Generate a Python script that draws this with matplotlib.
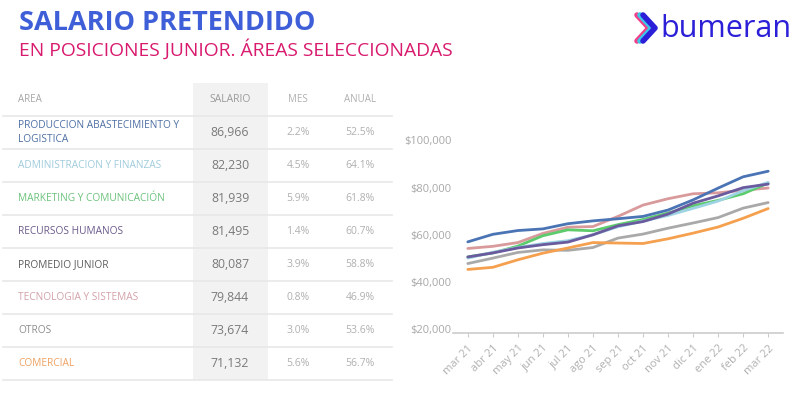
import matplotlib.pyplot as plt
from matplotlib.lines import Line2D

# series data
months = ["mar 21", "abr 21", "may 21", "jun 21", "jul 21", "ago 21", "sep 21",
          "oct 21", "nov 21", "dic 21", "ene 22", "feb 22", "mar 22"]

produccion = [57000, 60200, 61800, 62500, 64700, 65900, 66800, 67800, 70500, 74800, 79800, 84600, 86966]
admin = [50100, 52600, 54600, 56300, 57500, 60000, 63400, 65800, 68200, 71200, 74300, 78700, 82230]
marketing = [50600, 52300, 55200, 59600, 62100, 61700, 64300, 66500, 69200, 72300, 74600, 77400, 81939]
rrhh = [50600, 52300, 54400, 55800, 56900, 60000, 63800, 65600, 68800, 73400, 76500, 80000, 81495]
tecnologia = [54200, 55100, 56700, 60600, 63200, 63500, 67800, 72600, 75300, 77400, 77800, 78900, 79844]
otros = [47800, 50100, 52500, 53600, 53400, 54600, 58600, 60300, 62800, 65000, 67300, 71300, 73674]
comercial = [45300, 46200, 49400, 52200, 54400, 56700, 56500, 56300, 58300, 60700, 63300, 67000, 71132]

# table data
areas = ["PRODUCCION ABASTECIMIENTO Y\nLOGISTICA", "ADMINISTRACION Y FINANZAS",
         "MARKETING Y COMUNICACIÓN", "RECURSOS HUMANOS", "PROMEDIO JUNIOR",
         "TECNOLOGIA Y SISTEMAS", "OTROS", "COMERCIAL"]
salario = ["86,966", "82,230", "81,939", "81,495", "80,087", "79,844", "73,674", "71,132"]
mes = ["2.2%", "4.5%", "5.9%", "1.4%", "3.9%", "0.8%", "3.0%", "5.6%"]
anual = ["52.5%", "64.1%", "61.8%", "60.7%", "58.8%", "46.9%", "53.6%", "56.7%"]

area_colors = ["#4d6fa3", "#9fcbdb", "#6cc27c", "#6b5a8c", "#5a5a5a", "#d3a1a9", "#8c8c8c", "#efa160"]

plt.rcParams['font.family'] = ['Open Sans', 'DejaVu Sans']

fig = plt.figure(figsize=(8, 3.97), dpi=100)

# full-figure layer in pixel coordinates for title, logo and table
bg = fig.add_axes([0, 0, 1, 1])
bg.set_xlim(0, 800)
bg.set_ylim(397, 0)
bg.axis("off")

bg.text(19, 23, "SALARIO PRETENDIDO", fontsize=19.5, fontweight="bold",
        color="#3f5fd8", va="center", ha="left")
bg.text(19, 49, "EN POSICIONES JUNIOR. ÁREAS SELECCIONADAS", fontsize=13.9,
        color="#d81b6e", va="center", ha="left")

# logo
for dx, c in [(-3, "#f0408a"), (0, "#3cc8e8"), (3, "#2b1fd8")]:
    bg.add_line(Line2D([640 + dx, 652 + dx, 640 + dx], [15, 28, 41], color=c,
                       lw=4, solid_capstyle="round", solid_joinstyle="round"))
bg.text(660, 29, "bumeran", fontsize=22, color="#2b1fd8", va="center", ha="left")

# table
bg.add_patch(plt.Rectangle((193, 83), 75, 297, color="#f2f2f2", lw=0, zorder=0))
hy = 100
bg.text(18, hy, "AREA", fontsize=7, color="#a5a5a5", va="center")
bg.text(230, hy, "SALARIO", fontsize=7.5, color="#9a9a9a", va="center", ha="center")
bg.text(298, hy, "MES", fontsize=7, color="#b0b0b0", va="center", ha="center")
bg.text(360, hy, "ANUAL", fontsize=7, color="#b0b0b0", va="center", ha="center")
row_h = 33
top = 116
bg.plot([3, 392], [top, top], color="#e8e8e8", lw=1.2)
for i, name in enumerate(areas):
    yc = top + row_h * i + row_h / 2
    bg.text(18, yc, name, fontsize=7.3, fontweight="medium", color=area_colors[i],
            va="center", linespacing=1.3)
    bg.text(230, yc, salario[i], fontsize=8.8, color="#7a7a7a", va="center", ha="center")
    bg.text(298, yc, mes[i], fontsize=7.5, color="#b0b0b0", va="center", ha="center")
    bg.text(360, yc, anual[i], fontsize=7.5, color="#b0b0b0", va="center", ha="center")
    ly = top + row_h * (i + 1)
    bg.plot([3, 392], [ly, ly], color="#e8e8e8", lw=1.2)

# line chart
ax = fig.add_axes([0.566, 0.161, 0.413, 0.497])
x = list(range(len(months)))
series = [
    (otros, "#a9a9a9"),
    (comercial, "#f5a04e"),
    (tecnologia, "#d99a9c"),
    (marketing, "#5ccb6c"),
    (admin, "#9ed3e3"),
    (rrhh, "#6a5a9e"),
    (produccion, "#4a74b4"),
]
for vals, c in series:
    ax.plot(x, vals, color=c, lw=2, solid_capstyle="round")

ax.set_xlim(-0.6, 12.6)
ax.set_ylim(18300, 102000)
ax.set_yticks([20000, 40000, 60000, 80000, 100000])
ax.set_yticklabels(["$20,000", "$40,000", "$60,000", "$80,000", "$100,000"])
ax.set_xticks(x)
ax.set_xticklabels(months, rotation=45, ha="right", rotation_mode="anchor")
ax.tick_params(axis="y", length=0, labelsize=8, labelcolor="#a8a8a8", pad=1)
ax.tick_params(axis="x", length=3, color="#cccccc", labelsize=8,
               labelcolor="#b0b0b0", pad=4)
for s in ["top", "right", "left"]:
    ax.spines[s].set_visible(False)
ax.spines["bottom"].set_color("#cccccc")
ax.spines["bottom"].set_linewidth(1.2)
ax.patch.set_alpha(0)

fig.savefig("out.png", dpi=100)
